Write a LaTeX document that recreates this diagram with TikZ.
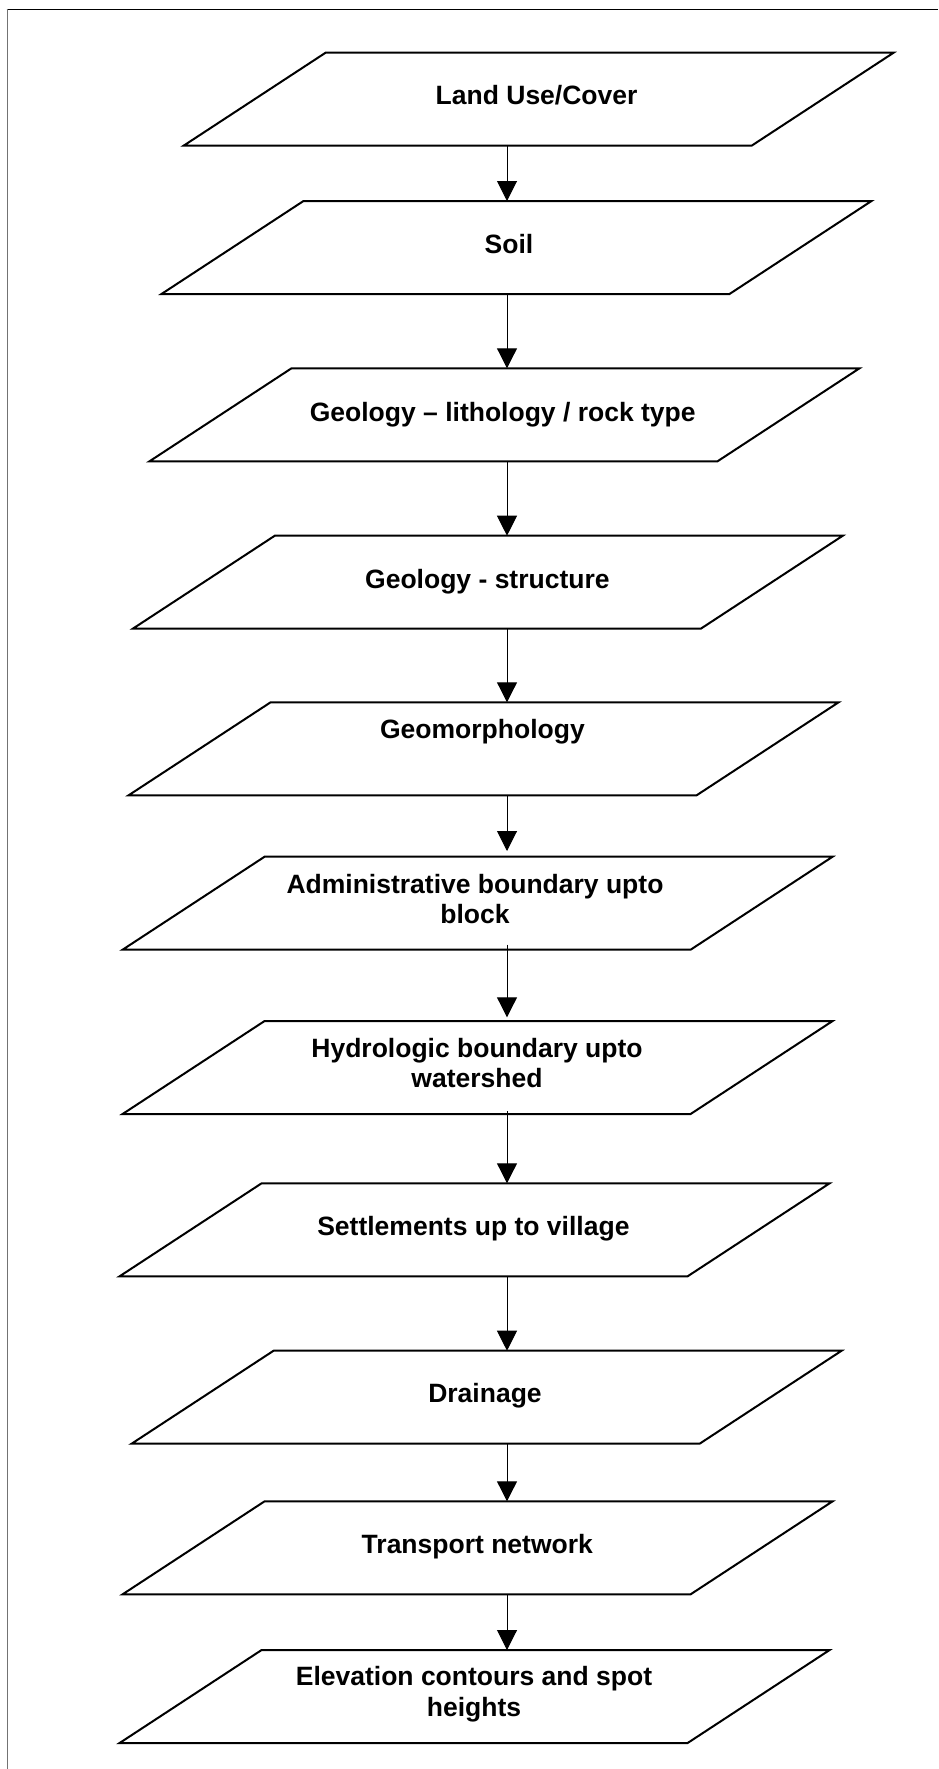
\documentclass[tikz,border=0pt]{standalone}
\usepackage{fontspec}
\setmainfont{Liberation Sans}
\usetikzlibrary{arrows.meta}
\newcommand\pgram[3]{%
  \draw[boxline] (#2+142,#3) -- ++(568,0) -- ++(-142,93) -- ++(-568,0) -- cycle;
  \coordinate (#1-n) at (507,#3);
  \coordinate (#1-s) at (507,#3+93);
}
\begin{document}
\begin{tikzpicture}[x=1pt,y=-1pt,
  boxline/.style={line width=2pt, line join=miter},
  lbl/.style={font=\bfseries\fontsize{26.5}{30.5}\selectfont, anchor=base, align=center, inner sep=0pt},
  arr/.style={line width=1pt, -{Triangle[length=20pt,width=20pt]}},
  topframe/.style={line width=1pt, black},
  sideframe/.style={line width=1.3pt, color=black!55}]
\useasboundingbox (0,0) rectangle (938,1769);
\draw[topframe] (6.6,9.3) -- (938,9.3);
\draw[sideframe] (7.3,8.8) -- (7.3,1769);

\pgram{b1}{183.6}{52.7}
\pgram{b2}{161.5}{201}
\pgram{b3}{149.5}{368.3}
\pgram{b4}{132.8}{535.7}
\pgram{b5}{128.6}{702.3}
\pgram{b6}{122.6}{856.7}
\pgram{b7}{122.6}{1021}
\pgram{b8}{119.6}{1183.3}
\pgram{b9}{131.6}{1350.7}
\pgram{b10}{122.6}{1501.3}
\pgram{b11}{119.6}{1650}

\node[lbl] (t1) at (536.6,104) {Land Use/Cover};
\node[lbl] (t2) at (509,253) {Soil};
\node[lbl] (t3) at (502.7,421) {Geology – lithology / rock type};
\node[lbl] (t4) at (487.4,588) {Geology - structure};
\node[lbl] (t5) at (482.4,738.7) {Geomorphology};
\node[lbl] (t6) at (475,923.5) {Administrative boundary upto\\block};
\node[lbl] (t7) at (477,1087.5) {Hydrologic boundary upto\\watershed};
\node[lbl] (t8) at (473.4,1235) {Settlements up to village};
\node[lbl] (t9) at (485,1402) {Drainage};
\node[lbl] (t10) at (477.3,1553) {Transport network};
\node[lbl] (t11) at (474,1716) {Elevation contours and spot\\heights};

\draw[arr] (b1-s) -- (b2-n);
\draw[arr] (b2-s) -- (b3-n);
\draw[arr] (b3-s) -- (b4-n);
\draw[arr] (b4-s) -- (b5-n);
\draw[arr, shorten >=5.7pt] (b5-s) -- (b6-n);
\draw[arr, shorten <=-5pt, shorten >=3.7pt] (b6-s) -- (b7-n);
\draw[arr, shorten <=-3pt] (b7-s) -- (b8-n);
\draw[arr] (b8-s) -- (b9-n);
\draw[arr] (b9-s) -- (b10-n);
\draw[arr] (b10-s) -- (b11-n);
\end{tikzpicture}
\end{document}
